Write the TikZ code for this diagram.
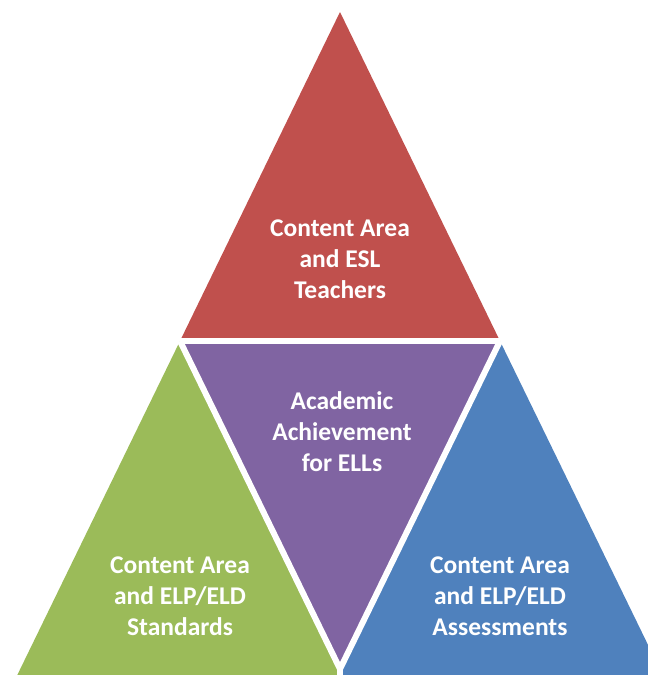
\documentclass[tikz,border=0pt]{standalone}
\usepackage{fontspec}
\setmainfont{Carlito}
\definecolor{tred}{HTML}{C0504D}
\definecolor{tpurple}{HTML}{8064A2}
\definecolor{tgreen}{HTML}{9BBB59}
\definecolor{tblue}{HTML}{4F81BD}
\begin{document}
\begin{tikzpicture}[x=1pt,y=-1pt,
  lbl/.style={text=white,font=\bfseries\fontsize{25.5}{31}\selectfont,align=center,inner sep=0pt},
  gap/.style={draw=white,line width=6pt}]
\useasboundingbox (0,0) rectangle (648,675);
\clip (0,0) rectangle (648,675);
\coordinate (A) at (340,12);
\coordinate (L) at (180,341);
\coordinate (R) at (500,341);
\coordinate (M) at (340,669);
\coordinate (BL) at (10,690);
\coordinate (BR) at (670,690);
\coordinate (BM) at (340,690);
\fill[tred] (A) -- (L) -- (R) -- cycle;
\fill[tpurple] (L) -- (R) -- (M) -- cycle;
\fill[tgreen] (L) -- (M) -- (BM) -- (BL) -- cycle;
\fill[tblue] (R) -- (M) -- (BM) -- (BR) -- cycle;
\draw[gap] (L) -- (R);
\draw[gap] (L) -- (M);
\draw[gap] (R) -- (M);
\draw[gap] (M) -- (BM);
\node[lbl] (t1) at (340,259) {Content Area\\and ESL\\Teachers};
\node[lbl] (t2) at (342,432) {Academic\\Achievement\\for ELLs};
\node[lbl] (t3) at (180,596) {Content Area\\and ELP/ELD\\Standards};
\node[lbl] (t4) at (500,596) {Content Area\\and ELP/ELD\\Assessments};
\end{tikzpicture}
\end{document}
